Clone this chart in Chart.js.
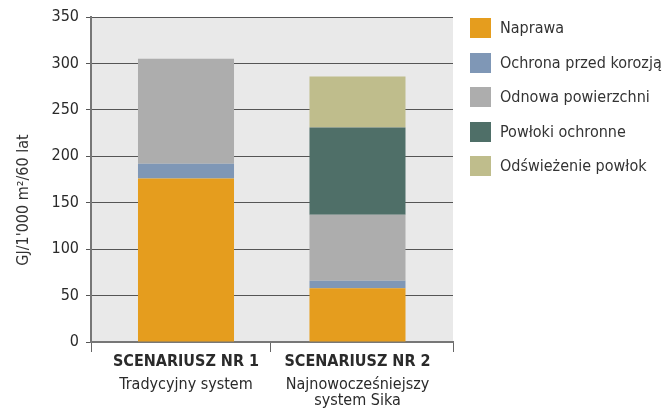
<!DOCTYPE html>
<html>
<head>
<meta charset="utf-8">
<script src="https://cdn.jsdelivr.net/npm/chart.js@4/dist/chart.umd.min.js"></script>
<style>
  html, body { margin: 0; padding: 0; background: #fff; }
  #wrap { position: relative; width: 671px; height: 412px; }
  #legend { position: absolute; left: 470px; top: 18px; margin: 0; padding: 0; list-style: none;
    font-family: "DejaVu Sans Condensed", "DejaVu Sans", sans-serif; font-size: 16px; color: #333; }
  #legend li { height: 34.5px; display: flex; align-items: flex-start; white-space: nowrap; }
  #legend span.box { display: inline-block; width: 21px; height: 20px; margin-right: 9px; flex: none; }
  #legend span.txt { line-height: 20px; }
</style>
</head>
<body>
<div id="wrap">
  <canvas id="canvas" width="671" height="412"></canvas>
  <ul id="legend"></ul>
</div>
<script>
// categories (bold scenario name, then description lines)
const scenarios = ["SCENARIUSZ NR 1", "SCENARIUSZ NR 2"];
const descriptions = [["Tradycyjny system"], ["Najnowocześniejszy", "system Sika"]];

// stacked values, GJ per 1000 m2 over 60 years
const naprawa = [176, 58];
const ochrona = [16, 8];
const odnowa = [113, 71];
const powloki = [0, 94];
const odswiezenie = [0, 55];

const seriesNames = ["Naprawa", "Ochrona przed korozją", "Odnowa powierzchni", "Powłoki ochronne", "Odświeżenie powłok"];
const seriesColors = ["#e59d1e", "#7f97b6", "#adadad", "#4f6f68", "#bfbd8c"];
const seriesValues = [naprawa, ochrona, odnowa, powloki, odswiezenie];

const font = '"DejaVu Sans Condensed", "DejaVu Sans", sans-serif';

// x runs on a numeric scale so the two columns can sit a bit closer than half the width
const xMin = -0.554;
const xMax = 1.557;
const xDivider = 0.49;

const datasets = seriesNames.map((name, i) => ({
  label: name,
  data: seriesValues[i].map((v, k) => ({ x: k, y: v })),
  backgroundColor: seriesColors[i],
  borderWidth: 0,
  barPercentage: 0.56,
  categoryPercentage: 1,
}));

// grey plot background, x labels and rotated y title
const decorations = {
  id: "decorations",
  beforeDraw(chart) {
    const { ctx, chartArea: a } = chart;
    ctx.save();
    ctx.fillStyle = "#e9e9e9";
    ctx.fillRect(a.left, a.top, a.right - a.left, a.bottom - a.top);
    ctx.restore();
  },
  afterDraw(chart) {
    const { ctx } = chart;
    const x = chart.scales.x;
    ctx.save();
    ctx.textAlign = "center";
    ctx.textBaseline = "middle";
    ctx.fillStyle = "#2a2a2a";
    scenarios.forEach((s, i) => {
      const px = x.getPixelForValue(i);
      ctx.font = "bold 16px " + font;
      ctx.fillText(s, px, 362);
      ctx.font = "16px " + font;
      descriptions[i].forEach((line, j) => ctx.fillText(line, px, 385 + j * 16));
    });
    ctx.translate(24, 200);
    ctx.rotate(-Math.PI / 2);
    ctx.font = "16px " + font;
    ctx.fillStyle = "#333";
    ctx.fillText("GJ/1'000 m²/60 lat", 0, 0);
    ctx.restore();
  },
};

const chart = new Chart(document.getElementById("canvas"), {
  type: "bar",
  data: { datasets: datasets },
  plugins: [decorations],
  options: {
    responsive: false,
    animation: false,
    layout: { padding: { left: 0, right: 218, top: 17, bottom: 0 } },
    plugins: { legend: { display: false }, tooltip: { enabled: false } },
    scales: {
      x: {
        type: "linear",
        stacked: true,
        offset: false,
        min: xMin,
        max: xMax,
        afterBuildTicks(scale) {
          scale.ticks = [{ value: xMin }, { value: xDivider }, { value: xMax }];
        },
        afterFit(scale) { scale.height = 70; },
        ticks: { display: false },
        grid: { offset: false, drawOnChartArea: false, tickLength: 10, color: "#666", lineWidth: 1 },
        border: { color: "#777", width: 2 },
      },
      y: {
        stacked: true,
        min: 0,
        max: 350,
        afterFit(scale) { scale.width = 91; },
        ticks: { stepSize: 50, padding: 7, color: "#2a2a2a", font: { family: font, size: 16 } },
        grid: { color: "#555", lineWidth: 1, tickLength: 5 },
        border: { color: "#777", width: 2 },
      },
    },
  },
});

// legend from the datasets
const legend = document.getElementById("legend");
chart.data.datasets.forEach((ds) => {
  const li = document.createElement("li");
  li.innerHTML = '<span class="box" style="background:' + ds.backgroundColor + '"></span><span class="txt">' + ds.label + "</span>";
  legend.appendChild(li);
});
</script>
</body>
</html>
